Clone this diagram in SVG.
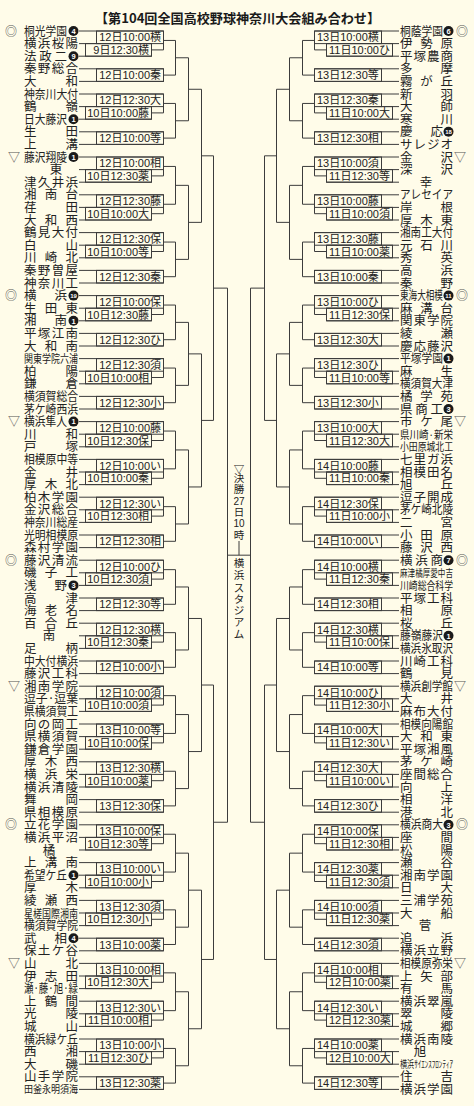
<svg xmlns="http://www.w3.org/2000/svg" width="474" height="1106" viewBox="0 0 474 1106">
<style>
.bg{fill:#fffce9}
.k{stroke:#3c3c3c;stroke-width:1;fill:none}
.n{font-family:"Noto Sans CJK JP",sans-serif;font-size:12.5px;fill:#222}
.s{font-family:"Noto Sans CJK JP",sans-serif;font-size:11px;fill:#222}
.t{font-family:"Noto Sans CJK JP",sans-serif;font-size:10px;fill:#222}
.one{text-anchor:middle}
.l{font-family:"Liberation Sans","Noto Sans CJK JP",sans-serif;font-size:11px;fill:#222}
.e{text-anchor:end}
.b{fill:#1a1a1a}
.bt{font-family:"Liberation Sans",sans-serif;font-size:7.5px;font-weight:bold;fill:#fff;text-anchor:middle}
.bt2{font-family:"Liberation Sans",sans-serif;font-size:6px;font-weight:bold;fill:#fff;text-anchor:middle}
.m{font-family:"Noto Sans CJK JP",sans-serif;font-size:12px;fill:#555;text-anchor:middle}
.v{font-family:"Noto Sans CJK JP","Liberation Sans",sans-serif;font-size:10.5px;fill:#222;text-anchor:middle}
.title{font-family:"Noto Sans CJK JP",sans-serif;font-size:13px;font-weight:bold;fill:#1a1a1a}
</style>
<defs>
<g id="pA">
<path class="k" d="M79 0H163.5M79 12.6H151.5M79 25.2H151.5M151.5 12.6V25.2M151.5 18.9H163.5M163.5 0V18.9M163.5 9.45H175.5M79 37.8H163.5M79 50.4H163.5M163.5 37.8V50.4M163.5 44.1H175.5M175.5 9.45V44.1M175.5 26.78H188.5M79 63H163.5M79 75.6H151.5M79 88.2H151.5M151.5 75.6V88.2M151.5 81.9H163.5M163.5 63V81.9M163.5 72.45H175.5M79 100.8H163.5M79 113.4H163.5M163.5 100.8V113.4M163.5 107.1H175.5M175.5 72.45V107.1M175.5 89.78H188.5M188.5 26.78V89.78"/>
<rect class="k" x="96.5" y="0" width="67" height="12.6"/>
<rect class="k" x="85.5" y="12.6" width="66" height="12.6"/>
<rect class="k" x="96.5" y="37.8" width="67" height="12.6"/>
<rect class="k" x="96.5" y="63" width="67" height="12.6"/>
<rect class="k" x="85.5" y="75.6" width="66" height="12.6"/>
<rect class="k" x="96.5" y="100.8" width="67" height="12.6"/>
</g>
<g id="pB">
<path class="k" d="M79 0H163.5M79 12.6H151.5M79 25.2H151.5M151.5 12.6V25.2M151.5 18.9H163.5M163.5 0V18.9M163.5 9.45H175.5M79 37.8H163.5M79 50.4H151.5M79 63H151.5M151.5 50.4V63M151.5 56.7H163.5M163.5 37.8V56.7M163.5 47.25H175.5M175.5 9.45V47.25M175.5 28.35H188.5M79 75.6H163.5M79 88.2H151.5M79 100.8H151.5M151.5 88.2V100.8M151.5 94.5H163.5M163.5 75.6V94.5M163.5 85.05H175.5M79 113.4H163.5M79 126H163.5M163.5 113.4V126M163.5 119.7H175.5M175.5 85.05V119.7M175.5 102.38H188.5M188.5 28.35V102.38"/>
<rect class="k" x="96.5" y="0" width="67" height="12.6"/>
<rect class="k" x="85.5" y="12.6" width="66" height="12.6"/>
<rect class="k" x="96.5" y="37.8" width="67" height="12.6"/>
<rect class="k" x="85.5" y="50.4" width="66" height="12.6"/>
<rect class="k" x="96.5" y="75.6" width="67" height="12.6"/>
<rect class="k" x="85.5" y="88.2" width="66" height="12.6"/>
<rect class="k" x="96.5" y="113.4" width="67" height="12.6"/>
</g>
<g id="side">
<use href="#pA" y="31"/>
<use href="#pB" y="157"/>
<use href="#pA" y="295.6"/>
<use href="#pB" y="421.6"/>
<use href="#pA" y="560.2"/>
<use href="#pB" y="686.2"/>
<use href="#pB" y="824.8"/>
<use href="#pB" y="963.4"/>
<path class="k" d="M188.5 89.28H201.5M188.5 222.36H201.5M201.5 89.28V222.36M201.5 155.82H213.5M188.5 353.88H201.5M188.5 486.96H201.5M201.5 353.88V486.96M201.5 420.42H213.5M213.5 155.82V420.42M213.5 288.12H227.5M188.5 618.48H201.5M188.5 751.56H201.5M201.5 618.48V751.56M201.5 685.02H213.5M188.5 890.16H201.5M188.5 1028.76H201.5M201.5 890.16V1028.76M201.5 959.46H213.5M213.5 685.02V959.46M213.5 822.24H227.5M227.5 288.12V822.24"/>
</g>
</defs>
<rect class="bg" x="0" y="0" width="474" height="1106"/>
<g id="title"><text class="title" x="95" y="23" textLength="285" lengthAdjust="spacingAndGlyphs">【第104回全国高校野球神奈川大会組み合わせ】</text></g>

<g id="connectors">
<use href="#side"/>
<use href="#side" transform="matrix(-1 0 0 1 478 0)"/>
<path class="k" d="M227.5 555.18H250.5M239 541V555.18"/>
</g>

<g id="final">
<text class="v"><tspan x="239" y="473">▽</tspan><tspan x="239" y="481.5">決</tspan><tspan x="239" y="492.5">勝</tspan><tspan x="239" y="504.5" font-family="Liberation Sans" font-size="10px">27</tspan><tspan x="239" y="516">日</tspan><tspan x="239" y="527" font-family="Liberation Sans" font-size="10px">10</tspan><tspan x="239" y="539">時</tspan></text>
<text class="v" font-size="11px"><tspan x="239" y="567">横</tspan><tspan x="239" y="579">浜</tspan><tspan x="239" y="591.5">ス</tspan><tspan x="239" y="602.5">タ</tspan><tspan x="239" y="614">ジ</tspan><tspan x="239" y="626">ア</tspan><tspan x="239" y="637.5">ム</tspan></text>
</g>

<g id="labels-left" class="l e">
<text x="161" y="41.3">12日10:00横</text><text x="149" y="53.9">9日12:30横</text><text x="161" y="79.1">12日10:00秦</text><text x="161" y="104.3">12日12:30大</text><text x="149" y="116.9">10日10:00藤</text><text x="161" y="142.1">12日10:00等</text>
<text x="161" y="167.3">12日10:00相</text><text x="149" y="179.9">10日12:30薬</text><text x="161" y="205.1">12日12:30藤</text><text x="149" y="217.7">10日10:00大</text><text x="161" y="242.9">12日12:30保</text><text x="149" y="255.5">10日10:00等</text><text x="161" y="280.7">12日12:30秦</text>
<text x="161" y="305.9">12日10:00保</text><text x="149" y="318.5">10日12:30藤</text><text x="161" y="343.7">12日12:30ひ</text><text x="161" y="368.9">12日12:30須</text><text x="149" y="381.5">10日10:00相</text><text x="161" y="406.7">12日12:30小</text>
<text x="161" y="431.9">12日10:00藤</text><text x="149" y="444.5">10日12:30保</text><text x="161" y="469.7">12日10:00い</text><text x="149" y="482.3">10日10:00秦</text><text x="161" y="507.5">12日12:30い</text><text x="149" y="520.1">10日12:30相</text><text x="161" y="545.3">12日12:30相</text>
<text x="161" y="570.5">12日10:00ひ</text><text x="149" y="583.1">10日12:30須</text><text x="161" y="608.3">12日12:30等</text><text x="161" y="633.5">12日12:30横</text><text x="149" y="646.1">10日12:30秦</text><text x="161" y="671.3">12日10:00小</text>
<text x="161" y="696.5">12日10:00須</text><text x="149" y="709.1">10日10:00須</text><text x="161" y="734.3">13日10:00等</text><text x="149" y="746.9">10日10:00保</text><text x="161" y="772.1">13日12:30横</text><text x="149" y="784.7">10日10:00薬</text><text x="161" y="809.9">13日12:30保</text>
<text x="161" y="835.1">13日10:00保</text><text x="149" y="847.7">10日12:30等</text><text x="161" y="872.9">13日10:00い</text><text x="149" y="885.5">10日10:00小</text><text x="161" y="910.7">13日12:30須</text><text x="149" y="923.3">10日12:30小</text><text x="161" y="948.5">13日10:00薬</text>
<text x="161" y="973.7">13日10:00相</text><text x="149" y="986.3">10日12:30大</text><text x="161" y="1011.5">13日12:30い</text><text x="149" y="1024.1">11日10:00相</text><text x="161" y="1049.3">13日10:00小</text><text x="149" y="1061.9">11日12:30ひ</text><text x="161" y="1087.1">13日12:30薬</text>
</g>

<g id="labels-right" class="l">
<text x="317" y="41.3">13日10:00横</text><text x="329" y="53.9">11日10:00ひ</text><text x="317" y="79.1">13日12:30等</text><text x="317" y="104.3">13日12:30秦</text><text x="329" y="116.9">11日10:00大</text><text x="317" y="142.1">13日12:30相</text>
<text x="317" y="167.3">13日10:00須</text><text x="329" y="179.9">11日12:30等</text><text x="317" y="205.1">13日10:00藤</text><text x="329" y="217.7">11日10:00須</text><text x="317" y="242.9">13日12:30藤</text><text x="329" y="255.5">11日10:00薬</text><text x="317" y="280.7">13日10:00秦</text>
<text x="317" y="305.9">13日10:00ひ</text><text x="329" y="318.5">11日12:30保</text><text x="317" y="343.7">13日12:30大</text><text x="317" y="368.9">13日12:30ひ</text><text x="329" y="381.5">11日10:00等</text><text x="317" y="406.7">13日12:30小</text>
<text x="317" y="431.9">13日10:00大</text><text x="329" y="444.5">11日12:30大</text><text x="317" y="469.7">14日10:00藤</text><text x="329" y="482.3">11日10:00秦</text><text x="317" y="507.5">14日12:30保</text><text x="329" y="520.1">11日10:00小</text><text x="317" y="545.3">14日10:00い</text>
<text x="317" y="570.5">14日10:00横</text><text x="329" y="583.1">11日12:30秦</text><text x="317" y="608.3">14日12:30相</text><text x="317" y="633.5">14日12:30横</text><text x="329" y="646.1">11日10:00保</text><text x="317" y="671.3">14日10:00等</text>
<text x="317" y="696.5">14日10:00ひ</text><text x="329" y="709.1">11日12:30小</text><text x="317" y="734.3">14日10:00大</text><text x="329" y="746.9">11日12:30い</text><text x="317" y="772.1">14日12:30大</text><text x="329" y="784.7">11日10:00い</text><text x="317" y="809.9">14日12:30ひ</text>
<text x="317" y="835.1">14日10:00保</text><text x="329" y="847.7">11日12:30相</text><text x="317" y="872.9">14日12:30薬</text><text x="329" y="885.5">11日12:30須</text><text x="317" y="910.7">14日10:00須</text><text x="329" y="923.3">11日12:30薬</text><text x="317" y="948.5">14日12:30須</text>
<text x="317" y="973.7">14日10:00相</text><text x="329" y="986.3">12日10:00薬</text><text x="317" y="1011.5">14日12:30い</text><text x="329" y="1024.1">12日12:30薬</text><text x="317" y="1049.3">14日10:00薬</text><text x="329" y="1061.9">12日10:00大</text><text x="317" y="1087.1">14日12:30等</text>
</g>

<g id="teams-left">
<g id="L00"><text class="m" x="11" y="35.5">◎</text><text class="n" transform="translate(24 35.5) scale(0.86 1)">桐光学園</text><circle class="b" cx="73.5" cy="31" r="5"/><text class="bt" x="73.5" y="33.7">4</text></g>
<g id="L01"><text class="n" x="24" y="48.1" textLength="54" lengthAdjust="spacing">横浜桜陽</text></g>
<g id="L02"><text class="n" x="24" y="60.7" textLength="43" lengthAdjust="spacing">法政二</text><circle class="b" cx="73.5" cy="56.2" r="5"/><text class="bt" x="73.5" y="58.9">9</text></g>
<g id="L03"><text class="n" x="24" y="73.3" textLength="54" lengthAdjust="spacing">秦野総合</text></g>
<g id="L04"><text class="n" x="24" y="85.9" textLength="54" lengthAdjust="spacing">大和</text></g>
<g id="L05"><text class="n" x="24" y="98.5" textLength="54" lengthAdjust="spacingAndGlyphs">神奈川大付</text></g>
<g id="L06"><text class="n" x="24" y="111.1" textLength="54" lengthAdjust="spacing">鶴嶺</text></g>
<g id="L07"><text class="n" transform="translate(24 123.7) scale(0.86 1)">日大藤沢</text><circle class="b" cx="73.5" cy="119.2" r="5"/><text class="bt" x="73.5" y="121.9">1</text></g>
<g id="L08"><text class="n" x="24" y="136.3" textLength="54" lengthAdjust="spacing">生田</text></g>
<g id="L09"><text class="n" x="24" y="148.9" textLength="54" lengthAdjust="spacing">上溝</text></g>
<g id="L10"><text class="m" x="14" y="161.5">▽</text><text class="n" transform="translate(24 161.5) scale(0.86 1)">藤沢翔陵</text><circle class="b" cx="73.5" cy="157" r="5"/><text class="bt" x="73.5" y="159.7">1</text></g>
<g id="L11"><text class="n one" x="56" y="174.1">東</text></g>
<g id="L12"><text class="n" x="24" y="186.7" textLength="54" lengthAdjust="spacing">津久井浜</text></g>
<g id="L13"><text class="n" x="24" y="199.3" textLength="54" lengthAdjust="spacing">湘南台</text></g>
<g id="L14"><text class="n" x="24" y="211.9" textLength="54" lengthAdjust="spacing">荏田</text></g>
<g id="L15"><text class="n" x="24" y="224.5" textLength="54" lengthAdjust="spacing">大和西</text></g>
<g id="L16"><text class="n" x="24" y="237.1" textLength="54" lengthAdjust="spacing">鶴見大付</text></g>
<g id="L17"><text class="n" x="24" y="249.7" textLength="54" lengthAdjust="spacing">白山</text></g>
<g id="L18"><text class="n" x="24" y="262.3" textLength="54" lengthAdjust="spacing">川崎北</text></g>
<g id="L19"><text class="n" x="24" y="274.9" textLength="54" lengthAdjust="spacing">秦野曽屋</text></g>
<g id="L20"><text class="n" x="24" y="287.5" textLength="54" lengthAdjust="spacing">神奈川工</text></g>
<g id="L21"><text class="m" x="11" y="300.1">◎</text><text class="n" x="24" y="300.1" textLength="43" lengthAdjust="spacing">横浜</text><circle class="b" cx="73.5" cy="295.6" r="5"/><text class="bt2" x="73.5" y="297.8">19</text></g>
<g id="L22"><text class="n" x="24" y="312.7" textLength="54" lengthAdjust="spacing">生田東</text></g>
<g id="L23"><text class="n" x="24" y="325.3" textLength="43" lengthAdjust="spacing">湘南</text><circle class="b" cx="73.5" cy="320.8" r="5"/><text class="bt" x="73.5" y="323.5">1</text></g>
<g id="L24"><text class="n" x="24" y="337.9" textLength="54" lengthAdjust="spacing">平塚江南</text></g>
<g id="L25"><text class="n" x="24" y="350.5" textLength="54" lengthAdjust="spacing">大和南</text></g>
<g id="L26"><text class="s" x="24" y="363.1" textLength="54" lengthAdjust="spacingAndGlyphs">関東学院六浦</text></g>
<g id="L27"><text class="n" x="24" y="375.7" textLength="54" lengthAdjust="spacing">柏陽</text></g>
<g id="L28"><text class="n" x="24" y="388.3" textLength="54" lengthAdjust="spacing">鎌倉</text></g>
<g id="L29"><text class="n" x="24" y="400.9" textLength="54" lengthAdjust="spacingAndGlyphs">横須賀総合</text></g>
<g id="L30"><text class="n" x="24" y="413.5" textLength="54" lengthAdjust="spacingAndGlyphs">茅ケ崎西浜</text></g>
<g id="L31"><text class="m" x="14" y="426.1">▽</text><text class="n" transform="translate(24 426.1) scale(0.86 1)">横浜隼人</text><circle class="b" cx="73.5" cy="421.6" r="5"/><text class="bt" x="73.5" y="424.3">1</text></g>
<g id="L32"><text class="n" x="24" y="438.7" textLength="54" lengthAdjust="spacing">川和</text></g>
<g id="L33"><text class="n" x="24" y="451.3" textLength="54" lengthAdjust="spacing">戸塚</text></g>
<g id="L34"><text class="n" x="24" y="463.9" textLength="54" lengthAdjust="spacingAndGlyphs">相模原中等</text></g>
<g id="L35"><text class="n" x="24" y="476.5" textLength="54" lengthAdjust="spacing">金井</text></g>
<g id="L36"><text class="n" x="24" y="489.1" textLength="54" lengthAdjust="spacing">厚木北</text></g>
<g id="L37"><text class="n" x="24" y="501.7" textLength="54" lengthAdjust="spacing">柏木学園</text></g>
<g id="L38"><text class="n" x="24" y="514.3" textLength="54" lengthAdjust="spacing">金沢総合</text></g>
<g id="L39"><text class="n" x="24" y="526.9" textLength="54" lengthAdjust="spacingAndGlyphs">神奈川総産</text></g>
<g id="L40"><text class="n" x="24" y="539.5" textLength="54" lengthAdjust="spacingAndGlyphs">光明相模原</text></g>
<g id="L41"><text class="n" x="24" y="552.1" textLength="54" lengthAdjust="spacing">森村学園</text></g>
<g id="L42"><text class="m" x="11" y="564.7">◎</text><text class="n" x="24" y="564.7" textLength="54" lengthAdjust="spacing">藤沢清流</text></g>
<g id="L43"><text class="n" x="24" y="577.3" textLength="54" lengthAdjust="spacing">磯子工</text></g>
<g id="L44"><text class="n" x="24" y="589.9" textLength="43" lengthAdjust="spacing">浅野</text><circle class="b" cx="73.5" cy="585.4" r="5"/><text class="bt" x="73.5" y="588.1">3</text></g>
<g id="L45"><text class="n" x="24" y="602.5" textLength="54" lengthAdjust="spacing">高津</text></g>
<g id="L46"><text class="n" x="24" y="615.1" textLength="54" lengthAdjust="spacing">海老名</text></g>
<g id="L47"><text class="n" x="24" y="627.7" textLength="54" lengthAdjust="spacing">百合丘</text></g>
<g id="L48"><text class="n one" x="49" y="640.3">南</text></g>
<g id="L49"><text class="n" x="24" y="652.9" textLength="54" lengthAdjust="spacing">足柄</text></g>
<g id="L50"><text class="n" x="24" y="665.5" textLength="54" lengthAdjust="spacingAndGlyphs">中大付横浜</text></g>
<g id="L51"><text class="n" x="24" y="678.1" textLength="54" lengthAdjust="spacing">藤沢工科</text></g>
<g id="L52"><text class="m" x="14" y="690.7">▽</text><text class="n" x="24" y="690.7" textLength="54" lengthAdjust="spacing">湘南学院</text></g>
<g id="L53"><text class="n" x="24" y="703.3" textLength="54" lengthAdjust="spacingAndGlyphs">逗子·逗葉</text></g>
<g id="L54"><text class="n" x="24" y="715.9" textLength="54" lengthAdjust="spacingAndGlyphs">県横須賀工</text></g>
<g id="L55"><text class="n" x="24" y="728.5" textLength="54" lengthAdjust="spacing">向の岡工</text></g>
<g id="L56"><text class="n" x="24" y="741.1" textLength="54" lengthAdjust="spacing">県横須賀</text></g>
<g id="L57"><text class="n" x="24" y="753.7" textLength="54" lengthAdjust="spacing">鎌倉学園</text></g>
<g id="L58"><text class="n" x="24" y="766.3" textLength="54" lengthAdjust="spacing">厚木西</text></g>
<g id="L59"><text class="n" x="24" y="778.9" textLength="54" lengthAdjust="spacing">横浜栄</text></g>
<g id="L60"><text class="n" x="24" y="791.5" textLength="54" lengthAdjust="spacing">横浜清陵</text></g>
<g id="L61"><text class="n" x="24" y="804.1" textLength="54" lengthAdjust="spacing">舞岡</text></g>
<g id="L62"><text class="n" x="24" y="816.7" textLength="54" lengthAdjust="spacing">県相模原</text></g>
<g id="L63"><text class="m" x="11" y="829.3">◎</text><text class="n" x="24" y="829.3" textLength="54" lengthAdjust="spacing">立花学園</text></g>
<g id="L64"><text class="n" x="24" y="841.9" textLength="54" lengthAdjust="spacing">横浜平沼</text></g>
<g id="L65"><text class="n one" x="49" y="854.5">橘</text></g>
<g id="L66"><text class="n" x="24" y="867.1" textLength="54" lengthAdjust="spacing">上溝南</text></g>
<g id="L67"><text class="n" transform="translate(24 879.7) scale(0.86 1)">希望ケ丘</text><circle class="b" cx="73.5" cy="875.2" r="5"/><text class="bt" x="73.5" y="877.9">1</text></g>
<g id="L68"><text class="n" x="24" y="892.3" textLength="54" lengthAdjust="spacing">厚木</text></g>
<g id="L69"><text class="n" x="24" y="904.9" textLength="54" lengthAdjust="spacing">綾瀬西</text></g>
<g id="L70"><text class="s" x="24" y="917.5" textLength="54" lengthAdjust="spacingAndGlyphs">星槎国際湘南</text></g>
<g id="L71"><text class="n" x="24" y="930.1" textLength="54" lengthAdjust="spacingAndGlyphs">横須賀学院</text></g>
<g id="L72"><text class="n" x="24" y="942.7" textLength="43" lengthAdjust="spacing">武相</text><circle class="b" cx="73.5" cy="938.2" r="5"/><text class="bt" x="73.5" y="940.9">4</text></g>
<g id="L73"><text class="n" x="24" y="955.3" textLength="54" lengthAdjust="spacing">保土ケ谷</text></g>
<g id="L74"><text class="m" x="14" y="967.9">▽</text><text class="n" x="24" y="967.9" textLength="54" lengthAdjust="spacing">山北</text></g>
<g id="L75"><text class="n" x="24" y="980.5" textLength="54" lengthAdjust="spacing">伊志田</text></g>
<g id="L76"><text class="n" x="24" y="993.1" textLength="54" lengthAdjust="spacingAndGlyphs">瀬·藤·旭·緑</text></g>
<g id="L77"><text class="n" x="24" y="1005.7" textLength="54" lengthAdjust="spacing">上鶴間</text></g>
<g id="L78"><text class="n" x="24" y="1018.3" textLength="54" lengthAdjust="spacing">光陵</text></g>
<g id="L79"><text class="n" x="24" y="1030.9" textLength="54" lengthAdjust="spacing">城山</text></g>
<g id="L80"><text class="n" x="24" y="1043.5" textLength="54" lengthAdjust="spacingAndGlyphs">横浜緑ケ丘</text></g>
<g id="L81"><text class="n" x="24" y="1056.1" textLength="54" lengthAdjust="spacing">西湘</text></g>
<g id="L82"><text class="n" x="24" y="1068.7" textLength="54" lengthAdjust="spacing">大磯</text></g>
<g id="L83"><text class="n" x="24" y="1081.3" textLength="54" lengthAdjust="spacing">山手学院</text></g>
<g id="L84"><text class="t" x="24" y="1093.4" textLength="54" lengthAdjust="spacingAndGlyphs">田釜永明須海</text></g>
</g>

<g id="teams-right">
<g id="R00"><text class="n" transform="translate(400 35.5) scale(0.86 1)">桐蔭学園</text><circle class="b" cx="448.5" cy="31" r="5"/><text class="bt" x="448.5" y="33.7">6</text><text class="m" x="462" y="35.5">◎</text></g>
<g id="R01"><text class="n" x="400" y="48.1" textLength="53" lengthAdjust="spacing">伊勢原</text></g>
<g id="R02"><text class="n" x="400" y="60.7" textLength="53" lengthAdjust="spacing">平塚農商</text></g>
<g id="R03"><text class="n" x="400" y="73.3" textLength="53" lengthAdjust="spacing">多摩</text></g>
<g id="R04"><text class="n" x="400" y="85.9" textLength="53" lengthAdjust="spacing">霧が丘</text></g>
<g id="R05"><text class="n" x="400" y="98.5" textLength="53" lengthAdjust="spacing">新羽</text></g>
<g id="R06"><text class="n" x="400" y="111.1" textLength="53" lengthAdjust="spacing">大師</text></g>
<g id="R07"><text class="n" x="400" y="123.7" textLength="53" lengthAdjust="spacing">寒川</text></g>
<g id="R08"><text class="n" x="400" y="136.3" textLength="43" lengthAdjust="spacing">慶応</text><circle class="b" cx="448.5" cy="131.8" r="5"/><text class="bt2" x="448.5" y="134">18</text></g>
<g id="R09"><text class="n" x="400" y="148.9" textLength="53" lengthAdjust="spacing">サレジオ</text></g>
<g id="R10"><text class="n" x="400" y="161.5" textLength="53" lengthAdjust="spacing">金沢</text><text class="m" x="460" y="161.5">▽</text></g>
<g id="R11"><text class="n" x="400" y="174.1" textLength="53" lengthAdjust="spacing">深沢</text></g>
<g id="R12"><text class="n one" x="426" y="186.7">幸</text></g>
<g id="R13"><text class="n" x="400" y="199.3" textLength="53" lengthAdjust="spacingAndGlyphs">アレセイア</text></g>
<g id="R14"><text class="n" x="400" y="211.9" textLength="53" lengthAdjust="spacing">岸根</text></g>
<g id="R15"><text class="n" x="400" y="224.5" textLength="53" lengthAdjust="spacing">厚木東</text></g>
<g id="R16"><text class="n" x="400" y="237.1" textLength="53" lengthAdjust="spacingAndGlyphs">湘南工大付</text></g>
<g id="R17"><text class="n" x="400" y="249.7" textLength="53" lengthAdjust="spacing">元石川</text></g>
<g id="R18"><text class="n" x="400" y="262.3" textLength="53" lengthAdjust="spacing">秀英</text></g>
<g id="R19"><text class="n" x="400" y="274.9" textLength="53" lengthAdjust="spacing">高浜</text></g>
<g id="R20"><text class="n" x="400" y="287.5" textLength="53" lengthAdjust="spacing">秦野</text></g>
<g id="R21"><text class="n" transform="translate(400 300.1) scale(0.688 1)">東海大相模</text><circle class="b" cx="448.5" cy="295.6" r="5"/><text class="bt2" x="448.5" y="297.8">11</text><text class="m" x="462" y="300.1">◎</text></g>
<g id="R22"><text class="n" x="400" y="312.7" textLength="53" lengthAdjust="spacing">麻溝台</text></g>
<g id="R23"><text class="n" x="400" y="325.3" textLength="53" lengthAdjust="spacing">関東学院</text></g>
<g id="R24"><text class="n" x="400" y="337.9" textLength="53" lengthAdjust="spacing">綾瀬</text></g>
<g id="R25"><text class="n" x="400" y="350.5" textLength="53" lengthAdjust="spacing">慶応藤沢</text></g>
<g id="R26"><text class="n" transform="translate(400 363.1) scale(0.86 1)">平塚学園</text><circle class="b" cx="448.5" cy="358.6" r="5"/><text class="bt" x="448.5" y="361.3">1</text></g>
<g id="R27"><text class="n" x="400" y="375.7" textLength="53" lengthAdjust="spacing">麻生</text></g>
<g id="R28"><text class="n" x="400" y="388.3" textLength="53" lengthAdjust="spacingAndGlyphs">横須賀大津</text></g>
<g id="R29"><text class="n" x="400" y="400.9" textLength="53" lengthAdjust="spacing">橘学苑</text></g>
<g id="R30"><text class="n" x="400" y="413.5" textLength="43" lengthAdjust="spacing">県商工</text><circle class="b" cx="448.5" cy="409" r="5"/><text class="bt" x="448.5" y="411.7">3</text></g>
<g id="R31"><text class="n" x="400" y="426.1" textLength="53" lengthAdjust="spacing">市ケ尾</text><text class="m" x="460" y="426.1">▽</text></g>
<g id="R32"><text class="s" x="400" y="438.7" textLength="53" lengthAdjust="spacingAndGlyphs">県川崎·新栄</text></g>
<g id="R33"><text class="s" x="400" y="451.3" textLength="53" lengthAdjust="spacingAndGlyphs">小田原城北工</text></g>
<g id="R34"><text class="n" x="400" y="463.9" textLength="53" lengthAdjust="spacing">七里ガ浜</text></g>
<g id="R35"><text class="n" x="400" y="476.5" textLength="53" lengthAdjust="spacing">相模田名</text></g>
<g id="R36"><text class="n" x="400" y="489.1" textLength="53" lengthAdjust="spacing">旭丘</text></g>
<g id="R37"><text class="n" x="400" y="501.7" textLength="53" lengthAdjust="spacing">逗子開成</text></g>
<g id="R38"><text class="n" x="400" y="514.3" textLength="53" lengthAdjust="spacingAndGlyphs">茅ケ崎北陵</text></g>
<g id="R39"><text class="n" x="400" y="526.9" textLength="53" lengthAdjust="spacing">二宮</text></g>
<g id="R40"><text class="n" x="400" y="539.5" textLength="53" lengthAdjust="spacing">小田原</text></g>
<g id="R41"><text class="n" x="400" y="552.1" textLength="53" lengthAdjust="spacing">藤沢西</text></g>
<g id="R42"><text class="n" x="400" y="564.7" textLength="43" lengthAdjust="spacing">横浜商</text><circle class="b" cx="448.5" cy="560.2" r="5"/><text class="bt" x="448.5" y="562.9">7</text><text class="m" x="462" y="564.7">◎</text></g>
<g id="R43"><text class="t" x="400" y="576.8" textLength="53" lengthAdjust="spacingAndGlyphs">麻津橘厚愛中吉</text></g>
<g id="R44"><text class="s" x="400" y="589.9" textLength="53" lengthAdjust="spacingAndGlyphs">川崎総合科学</text></g>
<g id="R45"><text class="n" x="400" y="602.5" textLength="53" lengthAdjust="spacing">平塚工科</text></g>
<g id="R46"><text class="n" x="400" y="615.1" textLength="53" lengthAdjust="spacing">相原</text></g>
<g id="R47"><text class="n" x="400" y="627.7" textLength="53" lengthAdjust="spacing">桜丘</text></g>
<g id="R48"><text class="n" transform="translate(400 640.3) scale(0.86 1)">藤嶺藤沢</text><circle class="b" cx="448.5" cy="635.8" r="5"/><text class="bt" x="448.5" y="638.5">1</text></g>
<g id="R49"><text class="n" x="400" y="652.9" textLength="53" lengthAdjust="spacingAndGlyphs">横浜氷取沢</text></g>
<g id="R50"><text class="n" x="400" y="665.5" textLength="53" lengthAdjust="spacing">川崎工科</text></g>
<g id="R51"><text class="n" x="400" y="678.1" textLength="53" lengthAdjust="spacing">鶴見</text></g>
<g id="R52"><text class="n" transform="translate(400 690.7) scale(0.848 1)">横浜創学館</text><text class="m" x="460" y="690.7">▽</text></g>
<g id="R53"><text class="n" x="400" y="703.3" textLength="53" lengthAdjust="spacing">大井</text></g>
<g id="R54"><text class="n" x="400" y="715.9" textLength="53" lengthAdjust="spacing">麻布大付</text></g>
<g id="R55"><text class="n" x="400" y="728.5" textLength="53" lengthAdjust="spacingAndGlyphs">相模向陽館</text></g>
<g id="R56"><text class="n" x="400" y="741.1" textLength="53" lengthAdjust="spacing">大和東</text></g>
<g id="R57"><text class="n" x="400" y="753.7" textLength="53" lengthAdjust="spacing">平塚湘風</text></g>
<g id="R58"><text class="n" x="400" y="766.3" textLength="53" lengthAdjust="spacing">茅ケ崎</text></g>
<g id="R59"><text class="n" x="400" y="778.9" textLength="53" lengthAdjust="spacing">座間総合</text></g>
<g id="R60"><text class="n" x="400" y="791.5" textLength="53" lengthAdjust="spacing">向上</text></g>
<g id="R61"><text class="n" x="400" y="804.1" textLength="53" lengthAdjust="spacing">相洋</text></g>
<g id="R62"><text class="n" x="400" y="816.7" textLength="53" lengthAdjust="spacing">港北</text></g>
<g id="R63"><text class="n" transform="translate(400 829.3) scale(0.86 1)">横浜商大</text><circle class="b" cx="448.5" cy="824.8" r="5"/><text class="bt" x="448.5" y="827.5">3</text><text class="m" x="462" y="829.3">◎</text></g>
<g id="R64"><text class="n" x="400" y="841.9" textLength="53" lengthAdjust="spacing">座間</text></g>
<g id="R65"><text class="n" x="400" y="854.5" textLength="53" lengthAdjust="spacing">松陽</text></g>
<g id="R66"><text class="n" x="400" y="867.1" textLength="53" lengthAdjust="spacing">瀬谷</text></g>
<g id="R67"><text class="n" x="400" y="879.7" textLength="53" lengthAdjust="spacing">湘南学園</text></g>
<g id="R68"><text class="n" x="400" y="892.3" textLength="53" lengthAdjust="spacing">日大</text></g>
<g id="R69"><text class="n" x="400" y="904.9" textLength="53" lengthAdjust="spacing">三浦学苑</text></g>
<g id="R70"><text class="n" x="400" y="917.5" textLength="53" lengthAdjust="spacing">大船</text></g>
<g id="R71"><text class="n one" x="425" y="930.1">菅</text></g>
<g id="R72"><text class="n" x="400" y="942.7" textLength="53" lengthAdjust="spacing">追浜</text></g>
<g id="R73"><text class="n" x="400" y="955.3" textLength="53" lengthAdjust="spacing">横浜立野</text></g>
<g id="R74"><text class="n" transform="translate(400 967.9) scale(0.848 1)">相模原弥栄</text><text class="m" x="460" y="967.9">▽</text></g>
<g id="R75"><text class="n" x="400" y="980.5" textLength="53" lengthAdjust="spacing">上矢部</text></g>
<g id="R76"><text class="n" x="400" y="993.1" textLength="53" lengthAdjust="spacing">有馬</text></g>
<g id="R77"><text class="n" x="400" y="1005.7" textLength="53" lengthAdjust="spacing">横浜翠嵐</text></g>
<g id="R78"><text class="n" x="400" y="1018.3" textLength="53" lengthAdjust="spacing">翠陵</text></g>
<g id="R79"><text class="n" x="400" y="1030.9" textLength="53" lengthAdjust="spacing">城郷</text></g>
<g id="R80"><text class="n" x="400" y="1043.5" textLength="53" lengthAdjust="spacing">横浜南陵</text></g>
<g id="R81"><text class="n one" x="420" y="1056.1">旭</text></g>
<g id="R82"><text class="t" x="400" y="1068.2" textLength="53" lengthAdjust="spacingAndGlyphs">横浜ｻｲｴﾝｽﾌﾛﾝﾃｨｱ</text></g>
<g id="R83"><text class="n" x="400" y="1081.3" textLength="53" lengthAdjust="spacing">住吉</text></g>
<g id="R84"><text class="n" x="400" y="1093.9" textLength="53" lengthAdjust="spacing">横浜学園</text></g>
</g>
</svg>
